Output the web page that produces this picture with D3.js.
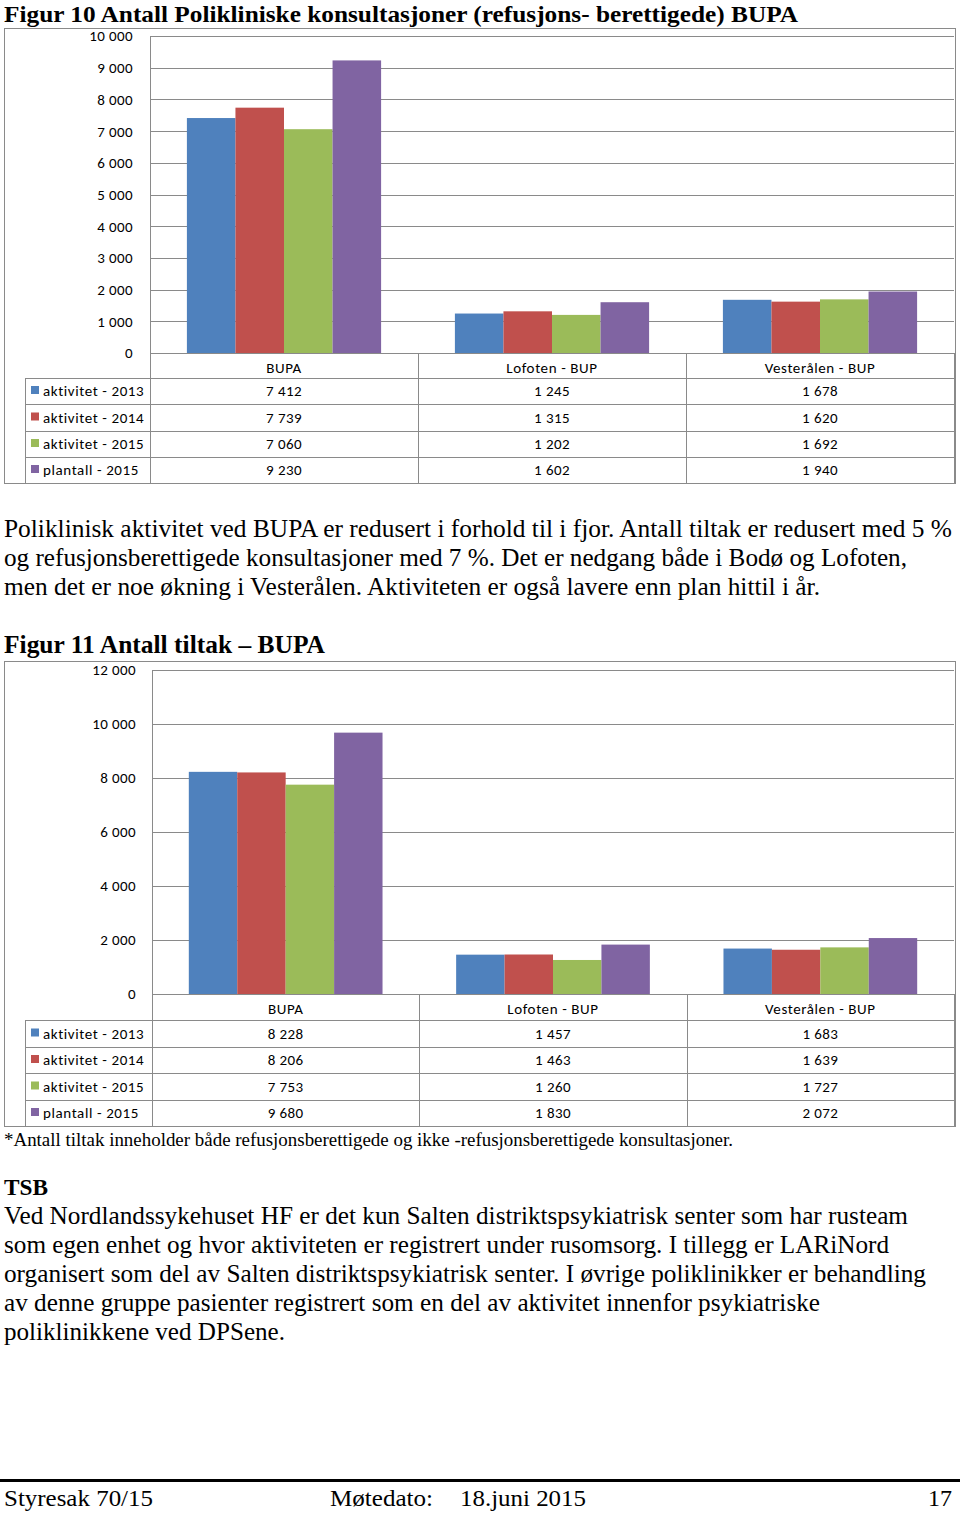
<!DOCTYPE html>
<html><head><meta charset="utf-8">
<script src="https://cdn.jsdelivr.net/npm/d3@7"></script>
<style>
body{margin:0;background:#fff;}
svg{display:block;}
.serif{font-family:"Liberation Serif","Times New Roman",serif;fill:#000;}
.sans{font-family:Carlito,Lato,"Open Sans",sans-serif;fill:#000;}
</style></head>
<body>
<script>
// ---------- data ----------
const categories = ["BUPA", "Lofoten - BUP", "Vesterålen - BUP"];
const seriesNames = ["aktivitet - 2013", "aktivitet - 2014", "aktivitet - 2015", "plantall - 2015"];
const seriesColors = ["#4F81BD", "#C0504D", "#9BBB59", "#8064A2"];

const fig10Aktivitet2013 = [7412, 1245, 1678];
const fig10Aktivitet2014 = [7739, 1315, 1620];
const fig10Aktivitet2015 = [7060, 1202, 1692];
const fig10Plantall2015  = [9230, 1602, 1940];
const fig10Ticks = [0, 1000, 2000, 3000, 4000, 5000, 6000, 7000, 8000, 9000, 10000];

const fig11Aktivitet2013 = [8228, 1457, 1683];
const fig11Aktivitet2014 = [8206, 1463, 1639];
const fig11Aktivitet2015 = [7753, 1260, 1727];
const fig11Plantall2015  = [9680, 1830, 2072];
const fig11Ticks = [0, 2000, 4000, 6000, 8000, 10000, 12000];

const title10 = "Figur 10 Antall Polikliniske konsultasjoner (refusjons- berettigede) BUPA";
const title11 = "Figur 11 Antall tiltak – BUPA";
const para1 = [
  "Poliklinisk aktivitet ved BUPA er redusert i forhold til i fjor. Antall tiltak er redusert med 5 %",
  "og refusjonsberettigede konsultasjoner med 7 %. Det er nedgang både i Bodø og Lofoten,",
  "men det er noe økning i Vesterålen. Aktiviteten er også lavere enn plan hittil i år."
];
const footnote = "*Antall tiltak inneholder både refusjonsberettigede og ikke -refusjonsberettigede konsultasjoner.";
const tsbHead = "TSB";
const para2 = [
  "Ved Nordlandssykehuset HF er det kun Salten distriktspsykiatrisk senter som har rusteam",
  "som egen enhet og hvor aktiviteten er registrert under rusomsorg. I tillegg er LARiNord",
  "organisert som del av Salten distriktspsykiatrisk senter. I øvrige poliklinikker er behandling",
  "av denne gruppe pasienter registrert som en del av aktivitet innenfor psykiatriske",
  "poliklinikkene ved DPSene."
];
const footer = ["Styresak 70/15", "Møtedato:", "18.juni 2015", "17"];

// ---------- setup ----------
const W = 960, H = 1513;
const svg = d3.select("body").append("svg").attr("width", W).attr("height", H);
const loc = d3.formatLocale({decimal: ",", thousands: "\u00a0", grouping: [3], currency: ["", ""]});
const fmt = loc.format(",d");
const grid = "#8a8a8a";
const FS = "15px";

function serifLine(text, x, y, size, width, bold, anchor) {
  const t = svg.append("text").attr("class", "serif")
    .attr("x", x).attr("y", y)
    .style("font-size", size + "px")
    .style("font-weight", bold ? "bold" : "normal")
    .attr("text-anchor", anchor || "start")
    .text(text);
  if (width) t.attr("textLength", width).attr("lengthAdjust", "spacingAndGlyphs");
  return t;
}

function drawChart(o) {
  const g = svg.append("g");
  // outer frame
  g.append("rect").attr("x", o.frame[0] + 0.5).attr("y", o.frame[1] + 0.5)
    .attr("width", o.frame[2] - o.frame[0]).attr("height", o.frame[3] - o.frame[1])
    .attr("fill", "none").attr("stroke", grid).attr("stroke-width", 1);

  const x0 = d3.scaleBand().domain(categories).range([o.left, o.right]).paddingInner(0).paddingOuter(0);
  const x1 = d3.scaleBand().domain(seriesNames).range([0, x0.bandwidth()]).paddingInner(0).paddingOuter(0.76);
  const y = d3.scaleLinear().domain([0, o.ticks[o.ticks.length - 1]]).range([o.zero, o.top]);

  // gridlines
  g.selectAll(".gl").data(o.ticks).join("line")
    .attr("x1", o.left).attr("x2", o.right)
    .attr("y1", d => Math.round(y(d)) + 0.5).attr("y2", d => Math.round(y(d)) + 0.5)
    .attr("stroke", grid);
  // tick labels
  g.selectAll(".tl").data(o.ticks).join("text").attr("class", "sans")
    .attr("x", o.tickX).attr("y", d => y(d)).attr("dy", "0.36em")
    .attr("text-anchor", "end").style("font-size", FS).style("letter-spacing", "0.4px")
    .text(d => fmt(d));

  // bars
  o.series.forEach((vals, si) => {
    g.selectAll(".b" + si).data(vals).join("rect")
      .attr("x", (d, i) => x0(categories[i]) + x1(seriesNames[si]))
      .attr("width", x1.bandwidth())
      .attr("y", d => y(d))
      .attr("height", d => y(0) - y(d))
      .attr("fill", seriesColors[si]);
  });

  // table
  const rows = o.rows;
  const colEdges = [o.left, ...categories.map(c => x0(c) + x0.bandwidth())];
  colEdges.forEach((cx, i) => {
    g.append("line").attr("x1", Math.round(cx) + 0.5).attr("x2", Math.round(cx) + 0.5)
      .attr("y1", i === 0 ? o.top : o.zero).attr("y2", rows[rows.length - 1])
      .attr("stroke", grid);
  });
  rows.forEach((ry, i) => {
    g.append("line").attr("x1", i >= 1 ? o.legendLeft : o.left).attr("x2", o.right)
      .attr("y1", Math.round(ry) + 0.5).attr("y2", Math.round(ry) + 0.5).attr("stroke", grid);
  });
  g.append("line").attr("x1", o.legendLeft + 0.5).attr("x2", o.legendLeft + 0.5)
    .attr("y1", rows[1]).attr("y2", rows[rows.length - 1]).attr("stroke", grid);

  // header
  categories.forEach(c => {
    g.append("text").attr("class", "sans").attr("x", x0(c) + x0.bandwidth() / 2)
      .attr("y", (rows[0] + rows[1]) / 2 + 2).attr("dy", "0.36em")
      .attr("text-anchor", "middle").style("font-size", FS).style("letter-spacing", "0.6px").text(c);
  });
  // rows
  o.series.forEach((vals, si) => {
    const cy = (rows[si + 1] + rows[si + 2]) / 2;
    g.append("rect").attr("x", o.legendLeft + 6).attr("y", cy - 5).attr("width", 8).attr("height", 8)
      .attr("fill", seriesColors[si]);
    g.append("text").attr("class", "sans").attr("x", o.legendLeft + 18).attr("y", cy).attr("dy", "0.36em")
      .style("font-size", FS).style("letter-spacing", "0.6px").text(seriesNames[si]);
    vals.forEach((v, i) => {
      g.append("text").attr("class", "sans").attr("x", x0(categories[i]) + x0.bandwidth() / 2)
        .attr("y", cy).attr("dy", "0.36em").attr("text-anchor", "middle")
        .style("font-size", FS).style("letter-spacing", "0.4px").text(fmt(v));
    });
  });
}

// ---------- page ----------
serifLine(title10, 4, 21.5, 24, 794, true);

drawChart({
  frame: [4, 28, 955, 483],
  left: 150, right: 954, top: 36, zero: 353, tickX: 133,
  ticks: fig10Ticks,
  series: [fig10Aktivitet2013, fig10Aktivitet2014, fig10Aktivitet2015, fig10Plantall2015],
  rows: [353, 378, 404, 431, 457, 483],
  legendLeft: 25
});

para1.forEach((t, i) => serifLine(t, 4, 537 + i * 29, 25, [948, 903, 816][i], false));

serifLine(title11, 4, 653, 25, 321, true);

drawChart({
  frame: [4, 661, 955, 1126],
  left: 152, right: 954, top: 670, zero: 994, tickX: 136,
  ticks: fig11Ticks,
  series: [fig11Aktivitet2013, fig11Aktivitet2014, fig11Aktivitet2015, fig11Plantall2015],
  rows: [994, 1020, 1047, 1073, 1100, 1126],
  legendLeft: 25
});

serifLine(footnote, 4, 1146, 18, 729, false);
serifLine(tsbHead, 4, 1195, 24, 44, true);
para2.forEach((t, i) => serifLine(t, 4, 1224 + i * 29, 25, [904, 885, 922, 816, 281][i], false));

svg.append("rect").attr("x", 0).attr("y", 1479).attr("width", W).attr("height", 3).attr("fill", "#000");
serifLine(footer[0], 4, 1506, 24, 149, false);
serifLine(footer[1], 330, 1506, 24, 103, false);
serifLine(footer[2], 460, 1506, 24, 126, false);
serifLine(footer[3], 952, 1506, 24, null, false, "end");
</script>
</body></html>
